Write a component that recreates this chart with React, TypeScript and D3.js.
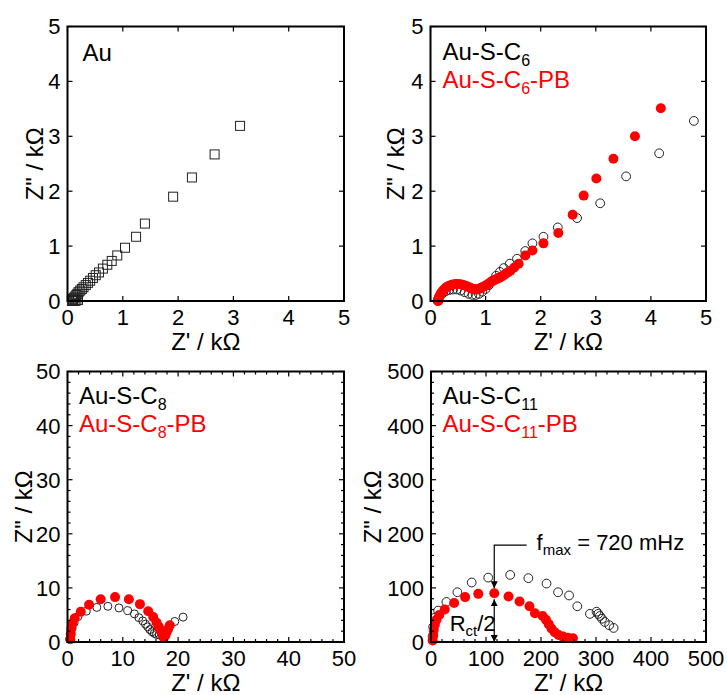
import React from 'react';
import * as d3 from 'd3';

// ---------- data (kΩ) ----------
const auSquares: [number, number][] = [
  [0.08, 0.0], [0.1, 0.0], [0.13, 0.0], [0.16, 0.01], [0.19, 0.02], [0.09, 0.02], [0.1, 0.04],
  [0.12, 0.06], [0.14, 0.08], [0.16, 0.11], [0.18, 0.13], [0.2, 0.16], [0.23, 0.19],
  [0.26, 0.22], [0.29, 0.25], [0.33, 0.29], [0.37, 0.33], [0.41, 0.37], [0.46, 0.42],
  [0.51, 0.47], [0.57, 0.52], [0.64, 0.59], [0.72, 0.66], [0.8, 0.73], [0.9, 0.83],
  [1.04, 0.97], [1.24, 1.17], [1.4, 1.41], [1.91, 1.9], [2.25, 2.25], [2.66, 2.67], [3.12, 3.19],
];

const c6: [number, number][] = [
  [0.13, 0.0], [0.14, 0.04], [0.16, 0.08], [0.19, 0.12], [0.23, 0.15], [0.28, 0.18], [0.34, 0.2],
  [0.41, 0.21], [0.48, 0.21], [0.55, 0.19], [0.62, 0.16], [0.69, 0.13], [0.76, 0.11], [0.82, 0.11],
  [0.88, 0.13], [0.94, 0.17], [1.0, 0.22], [1.06, 0.29], [1.12, 0.37], [1.19, 0.46], [1.26, 0.53],
  [1.33, 0.6], [1.44, 0.68], [1.57, 0.77], [1.72, 0.91], [1.85, 1.05], [2.05, 1.17], [2.31, 1.34],
  [2.66, 1.51], [3.08, 1.78], [3.55, 2.27], [4.15, 2.69], [4.78, 3.28],
];
const c6pb: [number, number][] = [
  [0.14, 0.0], [0.145, 0.03], [0.15, 0.05], [0.16, 0.08], [0.17, 0.1], [0.185, 0.13], [0.2, 0.15],
  [0.22, 0.18], [0.24, 0.2], [0.265, 0.23], [0.29, 0.25], [0.32, 0.27], [0.35, 0.28], [0.385, 0.295],
  [0.42, 0.3], [0.455, 0.31], [0.49, 0.31], [0.525, 0.305], [0.56, 0.3], [0.595, 0.29], [0.63, 0.28],
  [0.665, 0.265], [0.7, 0.25], [0.73, 0.235], [0.76, 0.22], [0.79, 0.215], [0.82, 0.21],
  [0.85, 0.215], [0.88, 0.22], [0.91, 0.235], [0.94, 0.25], [0.97, 0.265], [1.0, 0.28], [1.03, 0.3],
  [1.06, 0.32], [1.09, 0.34], [1.12, 0.36], [1.15, 0.375], [1.18, 0.39], [1.21, 0.405], [1.24, 0.42],
  [1.27, 0.435], [1.3, 0.45], [1.335, 0.475], [1.37, 0.5], [1.41, 0.525], [1.45, 0.55], [1.52, 0.61],
  [1.6, 0.68], [1.72, 0.83], [1.85, 0.92], [2.05, 1.05], [2.32, 1.24], [2.58, 1.57], [2.78, 1.92],
  [3.01, 2.23], [3.32, 2.59], [3.71, 3.0], [4.18, 3.51],
];

const c8: [number, number][] = [
  [0.4, 0.5], [0.5, 1.5], [0.8, 2.6], [1.2, 3.6], [1.9, 4.7], [3.4, 5.7], [5.3, 6.4], [7.3, 6.6],
  [9.3, 6.3], [10.9, 5.8], [12.1, 5.2], [12.9, 4.5], [13.6, 3.9], [14.1, 3.3], [14.5, 2.8],
  [14.9, 2.3], [15.3, 1.9], [15.7, 1.6], [16.1, 1.4], [16.6, 1.3], [17.2, 1.5], [17.7, 2.0],
  [18.4, 2.9], [19.4, 3.8], [20.9, 4.6],
];
const c8pb: [number, number][] = [
  [0.5, 0.5], [0.6, 1.5], [0.7, 2.5], [0.9, 3.4], [1.3, 4.4], [2.4, 5.6], [3.9, 6.9], [6.0, 7.9],
  [8.6, 8.3], [11.1, 7.9], [13.1, 7.0], [14.6, 5.7], [15.5, 4.6], [16.1, 3.6], [16.5, 2.8],
  [16.9, 2.0], [17.2, 1.3], [17.4, 0.8], [17.7, 1.2], [17.9, 1.8], [18.2, 2.4], [18.5, 3.1],
];

const c11: [number, number][] = [
  [3, 10], [4, 28], [7, 45], [13, 58], [28, 74], [48, 92], [74, 110], [104, 119], [144, 124],
  [177, 118], [210, 108], [231, 92], [251, 86], [266, 66], [289, 52], [301, 56], [304, 52],
  [307, 48], [311, 43], [316, 37], [324, 31], [332, 26],
];
const c11pb: [number, number][] = [
  [3, 3], [4, 12], [5, 22], [7, 32], [10, 41], [15, 50], [25, 60], [42, 72], [62, 83], [86, 89],
  [115, 90], [141, 84], [161, 75], [179, 66], [189, 53], [203, 48], [209, 41], [214, 33],
  [219, 25], [225, 18], [232, 13], [240, 10], [249, 8], [258, 7],
];

// annotation values (kΩ)
const fmaxPoint: [number, number] = [115, 90];
const fmaxElbow: [number, number] = [115, 179];
const fmaxLineEnd = 174;

const FONT = "'Liberation Sans', Arial, sans-serif";
const RED = '#ff0000';

type PanelProps = {
  x0: number; x1: number; y0: number; y1: number;
  max: number; step: number; minor?: number;
  yTitleX: number;
  render: (xs: d3.ScaleLinear<number, number>, ys: d3.ScaleLinear<number, number>) => React.ReactNode;
};

function Panel({ x0, x1, y0, y1, max, step, minor, yTitleX, render }: PanelProps) {
  const xs = d3.scaleLinear().domain([0, max]).range([x0, x1]);
  const ys = d3.scaleLinear().domain([0, max]).range([y1, y0]);
  const majors = d3.range(0, max + step / 2, step);
  const minors = minor ? d3.range(0, max + minor / 2, minor).filter((v) => Math.abs(v / step - Math.round(v / step)) > 1e-6) : [];
  const ML = 5, mL = 3;
  return (
    <g>
      {render(xs, ys)}
      <g stroke="#000" strokeWidth={1.2}>
        {majors.map((v) => (
          <g key={'M' + v}>
            <line x1={xs(v)} x2={xs(v)} y1={y1} y2={y1 - ML} />
            <line x1={xs(v)} x2={xs(v)} y1={y0} y2={y0 + ML} />
            <line x1={x0} x2={x0 + ML} y1={ys(v)} y2={ys(v)} />
            <line x1={x1} x2={x1 - ML} y1={ys(v)} y2={ys(v)} />
          </g>
        ))}
        {minors.map((v) => (
          <g key={'m' + v}>
            <line x1={xs(v)} x2={xs(v)} y1={y1} y2={y1 - mL} />
            <line x1={xs(v)} x2={xs(v)} y1={y0} y2={y0 + mL} />
            <line x1={x0} x2={x0 + mL} y1={ys(v)} y2={ys(v)} />
            <line x1={x1} x2={x1 - mL} y1={ys(v)} y2={ys(v)} />
          </g>
        ))}
      </g>
      <rect x={x0} y={y0} width={x1 - x0} height={y1 - y0} fill="none" stroke="#000" strokeWidth={2} />
      <g fontFamily={FONT} fontSize={22} fill="#000">
        {majors.map((v) => (
          <text key={'xl' + v} x={xs(v)} y={y1 + 24} textAnchor="middle">{v}</text>
        ))}
        {majors.map((v) => (
          <text key={'yl' + v} x={x0 - 7} y={ys(v)} dy="0.36em" textAnchor="end">{v}</text>
        ))}
      </g>
      <text x={(x0 + x1) / 2} y={y1 + 49} textAnchor="middle" fontFamily={FONT} fontSize={24}>Z' / kΩ</text>
      <text transform={`translate(${yTitleX},${(y0 + y1) / 2}) rotate(-90)`} textAnchor="middle" fontFamily={FONT} fontSize={24}>Z" / kΩ</text>
    </g>
  );
}

function OpenCircles({ data, xs, ys, r = 4.4 }: any) {
  return (
    <g>
      {data.map((d: [number, number], i: number) => (
        <circle key={i} cx={xs(d[0])} cy={ys(d[1])} r={r} fill="none" stroke="#222" strokeWidth={1} />
      ))}
    </g>
  );
}
function RedDots({ data, xs, ys, r = 5 }: any) {
  return (
    <g>
      {data.map((d: [number, number], i: number) => (
        <circle key={i} cx={xs(d[0])} cy={ys(d[1])} r={r} fill={RED} />
      ))}
    </g>
  );
}

function Legend({ x, y, sub }: { x: number; y: number; sub: string }) {
  return (
    <g fontFamily={FONT} fontSize={24}>
      <text x={x} y={y} fill="#000">
        Au-S-C<tspan fontSize={16} dy={6}>{sub}</tspan>
      </text>
      <text x={x} y={y + 28.5} fill={RED}>
        Au-S-C<tspan fontSize={16} dy={6}>{sub}</tspan><tspan dy={-6}>-PB</tspan>
      </text>
    </g>
  );
}

export default function App() {
  return (
    <svg width={727} height={695} style={{ position: 'absolute', left: 0, top: 0, background: '#fff' }}>
      <defs>
        <marker id="ah" viewBox="0 0 10 10" refX="10" refY="5" markerWidth="7" markerHeight="7" orient="auto-start-reverse" markerUnits="userSpaceOnUse">
          <path d="M0,0 L10,5 L0,10 z" fill="#000" />
        </marker>
      </defs>
      <rect width={727} height={695} fill="#fff" />
      {/* Panel 1: Au */}
      <Panel x0={67.5} x1={344} y0={26.5} y1={301} max={5} step={1} yTitleX={43}
        render={(xs, ys) => (
          <g>
            {auSquares.map((d, i) => (
              <rect key={i} x={xs(d[0]) - 4.5} y={ys(d[1]) - 4.5} width={9} height={9} fill="none" stroke="#222" strokeWidth={1} />
            ))}
            <text x={82.5} y={61} fontFamily={FONT} fontSize={24}>Au</text>
          </g>
        )} />
      {/* Panel 2: C6 */}
      <Panel x0={430.5} x1={706} y0={26.5} y1={301} max={5} step={1} yTitleX={404}
        render={(xs, ys) => (
          <g>
            <OpenCircles data={c6} xs={xs} ys={ys} />
            <RedDots data={c6pb} xs={xs} ys={ys} />
            <Legend x={442.5} y={59.5} sub="6" />
          </g>
        )} />
      {/* Panel 3: C8 */}
      <Panel x0={67.5} x1={344} y0={371.5} y1={642} max={50} step={10} minor={2} yTitleX={32}
        render={(xs, ys) => (
          <g>
            <OpenCircles data={c8} xs={xs} ys={ys} r={4} />
            <RedDots data={c8pb} xs={xs} ys={ys} />
            <Legend x={79} y={403.5} sub="8" />
          </g>
        )} />
      {/* Panel 4: C11 */}
      <Panel x0={431} x1={706} y0={371.5} y1={642} max={500} step={100} minor={20} yTitleX={381}
        render={(xs, ys) => (
          <g>
            <OpenCircles data={c11} xs={xs} ys={ys} />
            <RedDots data={c11pb} xs={xs} ys={ys} />
            <Legend x={442.5} y={403.5} sub="11" />
            {/* f_max annotation */}
            <polyline
              points={`${xs(fmaxLineEnd)},${ys(fmaxElbow[1])} ${xs(fmaxElbow[0])},${ys(fmaxElbow[1])} ${xs(fmaxPoint[0])},${ys(fmaxPoint[1]) - 5}`}
              fill="none" stroke="#000" strokeWidth={1.2} markerEnd="url(#ah)" />
            <text x={xs(192)} y={ys(170)} fontFamily={FONT} fontSize={22}>
              f<tspan fontSize={15} dy={5}>max</tspan><tspan dy={-5}> = 720 mHz</tspan>
            </text>
            {/* Rct/2 double arrow */}
            <line x1={xs(fmaxPoint[0])} x2={xs(fmaxPoint[0])} y1={ys(fmaxPoint[1]) + 6} y2={ys(0)}
              stroke="#000" strokeWidth={1.2} markerStart="url(#ah)" markerEnd="url(#ah)" />
            <text x={xs(34)} y={ys(21)} fontFamily={FONT} fontSize={22}>
              R<tspan fontSize={15} dy={5}>ct</tspan><tspan dy={-5}>/2</tspan>
            </text>
          </g>
        )} />
    </svg>
  );
}
